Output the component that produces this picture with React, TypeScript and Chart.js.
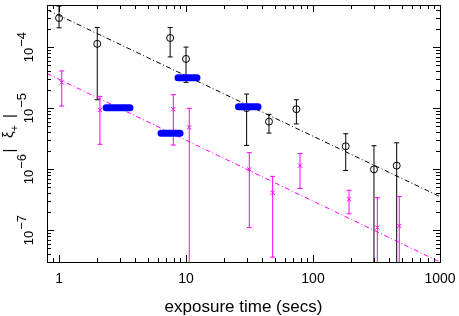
import React, { useEffect, useRef } from "react";
import { Chart, registerables } from "chart.js";

Chart.register(...registerables);

// ---- data ----
const blackX = [1, 2, 7.5, 10, 30, 45, 74, 181, 302, 456];
const blackY = [3.0e-4, 1.13e-4, 1.41e-4, 6.4e-5, 1.0e-5, 6.0e-6, 9.6e-6, 2.37e-6, 9.9e-7, 1.14e-6];
const blackHi = [4.7e-4, 2.1e-4, 2.1e-4, 1.0e-4, 1.7e-5, 7.9e-6, 1.37e-5, 3.8e-6, 2.42e-6, 2.7e-6];
const blackLo = [2.07e-4, 1.37e-5, 6.9e-5, 2.64e-5, 2.45e-6, 3.9e-6, 5.5e-6, 9.5e-7, 0, 0];

const magX = [1.05, 2.1, 7.94, 10.6, 31.5, 48.1, 79, 192, 321, 478];
const magY = [2.64e-5, 9.3e-6, 9.6e-6, 4.83e-6, 9.9e-7, 4.1e-7, 1.14e-6, 3.2e-7, 1.1e-7, 1.17e-7];
const magHi = [4.07e-5, 1.56e-5, 1.66e-5, 9.9e-6, 1.86e-6, 7.6e-7, 1.8e-6, 4.5e-7, 3.4e-7, 3.55e-7];
const magLo = [1.08e-5, 2.55e-6, 2.48e-6, 0, 1.1e-7, 3.6e-8, 4.8e-7, 1.85e-7, 0, 0];

const blueXStart = [2.35, 6.36, 8.65, 25.9];
const blueXEnd = [3.62, 8.97, 12.2, 36.9];
const blueY = [1.01e-5, 3.87e-6, 3.15e-5, 1.05e-5];

const fitX = [0.804, 1000];
const blackFitY = [4.1e-4, 3.54e-7];
const magentaFitY = [3.69e-5, 3.0e-8];

const xRange = [0.804, 1000];
const yRange = [3.17e-8, 4.9e-4];

const xTickValues = [1, 10, 100, 1000];
const xTickLabels = ["1", "10", "100", "1000"];
const yTickExponents = [-7, -6, -5, -4];

const xTitle = "exposure time (secs)";

const FONT = "'Liberation Sans', Arial, Helvetica, sans-serif";
const BLACK = "#000000";
const MAGENTA = "#ff00ff";
const BLUE = "#0000ff";

const errorBarPlugin = {
  id: "errorBars",
  beforeDatasetsDraw(chart: any) {
    const { ctx, chartArea, scales } = chart;
    const xs = scales.x;
    const ys = scales.y;
    const cap = 2.5;
    ctx.save();
    ctx.beginPath();
    ctx.rect(chartArea.left, chartArea.top, chartArea.right - chartArea.left, chartArea.bottom - chartArea.top);
    ctx.clip();
    const draw = (X: number[], Hi: number[], Lo: number[], color: string) => {
      ctx.strokeStyle = color;
      ctx.lineWidth = 1;
      X.forEach((x, i) => {
        const px = xs.getPixelForValue(x);
        const top = ys.getPixelForValue(Hi[i]);
        const hasLo = Lo[i] > 0;
        const bot = hasLo ? ys.getPixelForValue(Lo[i]) : chartArea.bottom + 2;
        ctx.beginPath();
        ctx.moveTo(px, top);
        ctx.lineTo(px, bot);
        ctx.moveTo(px - cap, top);
        ctx.lineTo(px + cap, top);
        if (hasLo) {
          ctx.moveTo(px - cap, bot);
          ctx.lineTo(px + cap, bot);
        }
        ctx.stroke();
      });
    };
    draw(blackX, blackHi, blackLo, BLACK);
    draw(magX, magHi, magLo, MAGENTA);
    ctx.restore();
  },
};

const axesPlugin = {
  id: "axesFrame",
  afterDraw(chart: any) {
    const { ctx, chartArea, scales } = chart;
    const xs = scales.x;
    const ys = scales.y;
    const { left, right, top, bottom } = chartArea;
    ctx.save();
    ctx.strokeStyle = BLACK;
    ctx.lineWidth = 1;
    ctx.strokeRect(Math.round(left) + 0.5, Math.round(top) + 0.5, Math.round(right - left), Math.round(bottom - top));

    const major = 7;
    const minor = 4;
    ctx.beginPath();
    for (let d = -1; d <= 3; d++) {
      for (let k = 1; k <= 9; k++) {
        const v = k * Math.pow(10, d);
        if (v < xRange[0] || v > xRange[1]) continue;
        const px = Math.round(xs.getPixelForValue(v)) + 0.5;
        const len = k === 1 ? major : minor;
        ctx.moveTo(px, bottom);
        ctx.lineTo(px, bottom - len);
        ctx.moveTo(px, top);
        ctx.lineTo(px, top + len);
      }
    }
    for (let d = -8; d <= -3; d++) {
      for (let k = 1; k <= 9; k++) {
        const v = k * Math.pow(10, d);
        if (v < yRange[0] || v > yRange[1]) continue;
        const py = Math.round(ys.getPixelForValue(v)) + 0.5;
        const len = k === 1 ? major : minor;
        ctx.moveTo(left, py);
        ctx.lineTo(left + len, py);
        ctx.moveTo(right, py);
        ctx.lineTo(right - len, py);
      }
    }
    ctx.stroke();

    // x tick labels
    ctx.fillStyle = BLACK;
    ctx.font = `14px ${FONT}`;
    ctx.textAlign = "center";
    ctx.textBaseline = "alphabetic";
    xTickValues.forEach((v, i) => {
      ctx.fillText(xTickLabels[i], xs.getPixelForValue(v), 283);
    });

    // x title
    ctx.font = `17px ${FONT}`;
    ctx.fillText(xTitle, (left + right) / 2, 312);

    // y tick labels (rotated, with superscript exponents)
    yTickExponents.forEach((e) => {
      const py = ys.getPixelForValue(Math.pow(10, e));
      ctx.save();
      ctx.translate(29, py);
      ctx.rotate(-Math.PI / 2);
      ctx.font = `13px ${FONT}`;
      ctx.textAlign = "left";
      ctx.textBaseline = "middle";
      const base = "10";
      const exp = (e < 0 ? "\u2212" : "") + String(Math.abs(e));
      const w1 = ctx.measureText(base).width;
      const w2 = ctx.measureText(exp).width;
      const start = -(w1 + w2 + 1) / 2;
      ctx.fillText(base, start, 0);
      ctx.fillText(exp, start + w1 + 1, -7);
      ctx.restore();
    });

    // y title  | ξ+ |
    ctx.save();
    ctx.translate(0, (top + bottom) / 2);
    ctx.rotate(-Math.PI / 2);
    ctx.textAlign = "center";
    ctx.font = `15px ${FONT}`;
    ctx.textBaseline = "alphabetic";
    ctx.fillText("|", -17, 14);
    ctx.fillText("|", 17.5, 14);
    ctx.textAlign = "left";
    ctx.fillText("\u03be", -4.5, 13);
    const wx = ctx.measureText("\u03be").width;
    ctx.font = `11px ${FONT}`;
    ctx.textBaseline = "middle";
    ctx.fillText("+", -4.5 + wx, 15);
    ctx.restore();

    ctx.restore();
  },
};

export default function App() {
  const ref = useRef<HTMLCanvasElement | null>(null);

  useEffect(() => {
    if (!ref.current) return;
    const blueSets = blueY.map((y, i) => ({
      data: [
        { x: blueXStart[i], y },
        { x: blueXEnd[i], y },
      ],
      showLine: true,
      borderColor: BLUE,
      borderWidth: 7,
      borderCapStyle: "round" as const,
      pointRadius: 0,
      order: 0,
    }));
    const chart = new Chart(ref.current, {
      type: "scatter",
      data: {
        datasets: [
          ...blueSets,
          {
            data: blackX.map((x, i) => ({ x, y: blackY[i] })),
            pointStyle: "circle",
            pointRadius: 3.5,
            borderColor: BLACK,
            backgroundColor: "rgba(0,0,0,0)",
            borderWidth: 1,
            order: 1,
          },
          {
            data: magX.map((x, i) => ({ x, y: magY[i] })),
            pointStyle: "crossRot",
            pointRadius: 3,
            borderColor: MAGENTA,
            backgroundColor: MAGENTA,
            borderWidth: 1,
            order: 1,
          },
          {
            data: fitX.map((x, i) => ({ x, y: blackFitY[i] })),
            showLine: true,
            borderColor: BLACK,
            borderWidth: 1,
            borderDash: [5, 2.5, 1, 2.5],
            pointRadius: 0,
            order: 2,
          },
          {
            data: fitX.map((x, i) => ({ x, y: magentaFitY[i] })),
            showLine: true,
            borderColor: MAGENTA,
            borderWidth: 1,
            borderDash: [5, 2.5, 1, 2.5],
            pointRadius: 0,
            order: 2,
          },
        ] as any,
      },
      options: {
        animation: false,
        responsive: false,
        devicePixelRatio: 1,
        events: [],
        layout: { padding: { left: 47, right: 19, top: 1, bottom: 54 } },
        plugins: { legend: { display: false }, tooltip: { enabled: false } },
        scales: {
          x: { type: "logarithmic", min: xRange[0], max: xRange[1], display: false },
          y: { type: "logarithmic", min: yRange[0], max: yRange[1], display: false },
        },
      },
      plugins: [errorBarPlugin, axesPlugin],
    });
    return () => chart.destroy();
  }, []);

  return (
    <div style={{ position: "fixed", left: 0, top: 0, width: 459, height: 316, background: "#fff" }}>
      <canvas ref={ref} width={459} height={316} style={{ width: 459, height: 316, display: "block" }} />
    </div>
  );
}
